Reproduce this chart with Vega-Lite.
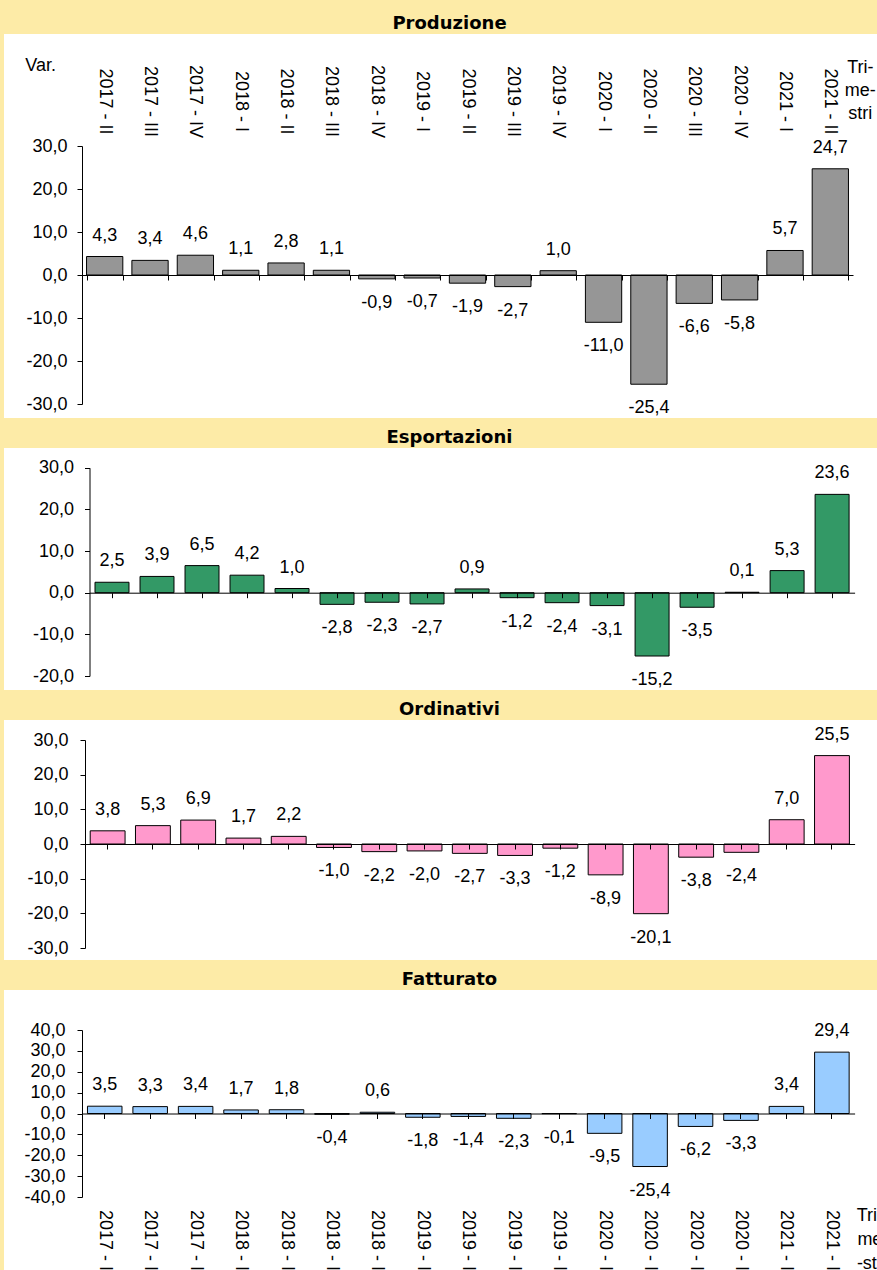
{
  "$schema": "https://vega.github.io/schema/vega-lite/v6.json",
  "background": "#FDEBA7",
  "padding": {"left": 4, "top": 15, "right": 0, "bottom": 0},
  "spacing": 11,
  "datasets": {
    "q": [
      {"t": "2017 - II", "p": 4.3, "e": 2.5, "o": 3.8, "f": 3.5},
      {"t": "2017 - III", "p": 3.4, "e": 3.9, "o": 5.3, "f": 3.3},
      {"t": "2017 - IV", "p": 4.6, "e": 6.5, "o": 6.9, "f": 3.4},
      {"t": "2018 - I", "p": 1.1, "e": 4.2, "o": 1.7, "f": 1.7},
      {"t": "2018 - II", "p": 2.8, "e": 1.0, "o": 2.2, "f": 1.8},
      {"t": "2018 - III", "p": 1.1, "e": -2.8, "o": -1.0, "f": -0.4},
      {"t": "2018 - IV", "p": -0.9, "e": -2.3, "o": -2.2, "f": 0.6},
      {"t": "2019 - I", "p": -0.7, "e": -2.7, "o": -2.0, "f": -1.8},
      {"t": "2019 - II", "p": -1.9, "e": 0.9, "o": -2.7, "f": -1.4},
      {"t": "2019 - III", "p": -2.7, "e": -1.2, "o": -3.3, "f": -2.3},
      {"t": "2019 - IV", "p": 1.0, "e": -2.4, "o": -1.2, "f": -0.1},
      {"t": "2020 - I", "p": -11.0, "e": -3.1, "o": -8.9, "f": -9.5},
      {"t": "2020 - II", "p": -25.4, "e": -15.2, "o": -20.1, "f": -25.4},
      {"t": "2020 - III", "p": -6.6, "e": -3.5, "o": -3.8, "f": -6.2},
      {"t": "2020 - IV", "p": -5.8, "e": 0.1, "o": -2.4, "f": -3.3},
      {"t": "2021 - I", "p": 5.7, "e": 5.3, "o": 7.0, "f": 3.4},
      {"t": "2021 - II", "p": 24.7, "e": 23.6, "o": 25.5, "f": 29.4}
    ]
  },
  "config": {
    "locale": {"number": {"decimal": ",", "thousands": ".", "grouping": [3], "currency": ["", " €"], "minus": "-"}},
    "view": {"stroke": null, "fill": "#FFFFFF"},
    "axis": {"labelFont": "Liberation Sans", "labelFontSize": 18, "labelColor": "#000000", "domainColor": "#000000", "tickColor": "#000000", "domainWidth": 1, "tickWidth": 1, "grid": false, "labelOverlap": false, "labelSeparation": 0, "labelFlush": false, "labelBound": false, "title": null},
    "text": {"font": "Liberation Sans", "fontSize": 18, "color": "#000000"},
    "title": {"font": "DejaVu Sans", "fontSize": 18, "fontWeight": "bold", "color": "#000000", "anchor": "middle", "offset": 1, "dx": 9}
  },
  "vconcat": [
    {
      "title": "Produzione",
      "width": 873,
      "height": 384,
      "data": {"name": "q"},
      "layer": [
        {
          "mark": {"type": "bar", "fill": "#969696", "stroke": "#000000", "strokeWidth": 1},
          "encoding": {
            "x": {"field": "t", "type": "nominal", "scale": {"domain": ["2017 - II","2017 - III","2017 - IV","2018 - I","2018 - II","2018 - III","2018 - IV","2019 - I","2019 - II","2019 - III","2019 - IV","2020 - I","2020 - II","2020 - III","2020 - IV","2021 - I","2021 - II"], "range": [78, 849], "paddingInner": 0.2, "paddingOuter": 0.1},
              "axis": {"orient": "bottom", "offset": -143, "labels": false, "title": null, "tickSize": 5, "tickBand": "extent", "zindex": 1}},
            "y": {"field": "p", "type": "quantitative", "scale": {"domain": [-30, 30], "range": [370, 112], "nice": false, "zero": false},
              "axis": {"values": [-30, -20, -10, 0, 10, 20, 30], "tickCount": 20, "format": ".1f", "offset": -78, "tickSize": 5, "labelPadding": 10, "labelOverlap": false, "title": null}}
          }
        },
        {
          "transform": [{"filter": "datum.p >= 0"}],
          "mark": {"type": "text", "dy": -21, "baseline": "middle"},
          "encoding": {"x": {"field": "t", "type": "nominal"}, "y": {"field": "p", "type": "quantitative"}, "text": {"field": "p", "type": "quantitative", "format": ".1f"}}
        },
        {
          "transform": [{"filter": "datum.p < 0"}],
          "mark": {"type": "text", "dy": 24, "baseline": "middle"},
          "encoding": {"x": {"field": "t", "type": "nominal"}, "y": {"field": "p", "type": "quantitative"}, "text": {"field": "p", "type": "quantitative", "format": ".1f"}}
        },
        {
          "mark": {"type": "text", "angle": 90, "align": "center", "baseline": "middle"},
          "encoding": {"x": {"field": "t", "type": "nominal"}, "y": {"datum": 40.35, "type": "quantitative"}, "text": {"field": "t", "type": "nominal"}}
        },
        {
          "data": {"values": [{}]},
          "mark": {"type": "text", "text": "Var.", "align": "center", "baseline": "top", "dx": -64},
          "encoding": {"x": {"datum": "2017 - II", "type": "nominal"}, "y": {"datum": 50.6, "type": "quantitative"}}
        },
        {
          "data": {"values": [{}]},
          "mark": {"type": "text", "text": ["Tri-", "me-", "stri"], "align": "center", "baseline": "top", "lineHeight": 23, "dx": 30},
          "encoding": {"x": {"datum": "2021 - II", "type": "nominal"}, "y": {"datum": 50.2, "type": "quantitative"}}
        }
      ]
    },
    {
      "title": "Esportazioni",
      "width": 873,
      "height": 242,
      "data": {"name": "q"},
      "layer": [
        {
          "mark": {"type": "bar", "fill": "#339966", "stroke": "#000000", "strokeWidth": 1},
          "encoding": {
            "x": {"field": "t", "type": "nominal", "scale": {"domain": ["2017 - II","2017 - III","2017 - IV","2018 - I","2018 - II","2018 - III","2018 - IV","2019 - I","2019 - II","2019 - III","2019 - IV","2020 - I","2020 - II","2020 - III","2020 - IV","2021 - I","2021 - II"], "range": [85.5, 850.6], "paddingInner": 0.245, "paddingOuter": 0.1225},
              "axis": {"orient": "bottom", "offset": -97.3, "labels": false, "title": null, "tickSize": 5, "zindex": 1}},
            "y": {"field": "e", "type": "quantitative", "scale": {"domain": [-20, 30], "range": [228, 19.7], "nice": false, "zero": false},
              "axis": {"values": [-20, -10, 0, 10, 20, 30], "tickCount": 20, "format": ".1f", "offset": -85.5, "tickSize": 5, "labelPadding": 11, "labelOverlap": false, "title": null}}
          }
        },
        {
          "transform": [{"filter": "datum.e >= 0"}],
          "mark": {"type": "text", "dy": -21, "baseline": "middle"},
          "encoding": {"x": {"field": "t", "type": "nominal"}, "y": {"field": "e", "type": "quantitative"}, "text": {"field": "e", "type": "quantitative", "format": ".1f"}}
        },
        {
          "transform": [{"filter": "datum.e < 0"}],
          "mark": {"type": "text", "dy": 24, "baseline": "middle"},
          "encoding": {"x": {"field": "t", "type": "nominal"}, "y": {"field": "e", "type": "quantitative"}, "text": {"field": "e", "type": "quantitative", "format": ".1f"}}
        }
      ]
    },
    {
      "title": "Ordinativi",
      "width": 873,
      "height": 240,
      "data": {"name": "q"},
      "layer": [
        {
          "mark": {"type": "bar", "fill": "#FF99CC", "stroke": "#000000", "strokeWidth": 1},
          "encoding": {
            "x": {"field": "t", "type": "nominal", "scale": {"domain": ["2017 - II","2017 - III","2017 - IV","2018 - I","2018 - II","2018 - III","2018 - IV","2019 - I","2019 - II","2019 - III","2019 - IV","2020 - I","2020 - II","2020 - III","2020 - IV","2021 - I","2021 - II"], "range": [81, 850.6], "paddingInner": 0.23, "paddingOuter": 0.115},
              "axis": {"orient": "bottom", "offset": -116, "labels": false, "title": null, "tickSize": 5, "zindex": 1}},
            "y": {"field": "o", "type": "quantitative", "scale": {"domain": [-30, 30], "range": [228, 20], "nice": false, "zero": false},
              "axis": {"values": [-30, -20, -10, 0, 10, 20, 30], "tickCount": 20, "format": ".1f", "offset": -81, "tickSize": 5, "labelPadding": 12, "labelOverlap": false, "title": null}}
          }
        },
        {
          "transform": [{"filter": "datum.o >= 0"}],
          "mark": {"type": "text", "dy": -21, "baseline": "middle"},
          "encoding": {"x": {"field": "t", "type": "nominal"}, "y": {"field": "o", "type": "quantitative"}, "text": {"field": "o", "type": "quantitative", "format": ".1f"}}
        },
        {
          "transform": [{"filter": "datum.o < 0"}],
          "mark": {"type": "text", "dy": 24, "baseline": "middle"},
          "encoding": {"x": {"field": "t", "type": "nominal"}, "y": {"field": "o", "type": "quantitative"}, "text": {"field": "o", "type": "quantitative", "format": ".1f"}}
        }
      ]
    },
    {
      "title": "Fatturato",
      "width": 873,
      "height": 280,
      "data": {"name": "q"},
      "layer": [
        {
          "mark": {"type": "bar", "fill": "#99CCFF", "stroke": "#000000", "strokeWidth": 1},
          "encoding": {
            "x": {"field": "t", "type": "nominal", "scale": {"domain": ["2017 - II","2017 - III","2017 - IV","2018 - I","2018 - II","2018 - III","2018 - IV","2019 - I","2019 - II","2019 - III","2019 - IV","2020 - I","2020 - II","2020 - III","2020 - IV","2021 - I","2021 - II"], "range": [78, 850.6], "paddingInner": 0.24, "paddingOuter": 0.12},
              "axis": {"orient": "bottom", "offset": -156.5, "labels": false, "title": null, "tickSize": 5, "zindex": 1}},
            "y": {"field": "f", "type": "quantitative", "scale": {"domain": [-40, 40], "range": [207, 40], "nice": false, "zero": false},
              "axis": {"values": [-40, -30, -20, -10, 0, 10, 20, 30, 40], "tickCount": 20, "format": ".1f", "offset": -78, "tickSize": 5, "labelPadding": 12, "labelOverlap": false, "title": null}}
          }
        },
        {
          "transform": [{"filter": "datum.f >= 0"}],
          "mark": {"type": "text", "dy": -21, "baseline": "middle"},
          "encoding": {"x": {"field": "t", "type": "nominal"}, "y": {"field": "f", "type": "quantitative"}, "text": {"field": "f", "type": "quantitative", "format": ".1f"}}
        },
        {
          "transform": [{"filter": "datum.f < 0"}],
          "mark": {"type": "text", "dy": 24, "baseline": "middle"},
          "encoding": {"x": {"field": "t", "type": "nominal"}, "y": {"field": "f", "type": "quantitative"}, "text": {"field": "f", "type": "quantitative", "format": ".1f"}}
        },
        {
          "mark": {"type": "text", "angle": 90, "align": "left", "baseline": "middle", "clip": true},
          "encoding": {"x": {"field": "t", "type": "nominal"}, "y": {"datum": -46.2, "type": "quantitative"}, "text": {"field": "t", "type": "nominal"}}
        },
        {
          "data": {"values": [{}]},
          "mark": {"type": "text", "text": ["Tri-", "me", "-str"], "align": "center", "baseline": "top", "lineHeight": 24, "dx": 38, "clip": true},
          "encoding": {"x": {"datum": "2021 - II", "type": "nominal"}, "y": {"datum": -44.8, "type": "quantitative"}}
        }
      ]
    }
  ]
}
